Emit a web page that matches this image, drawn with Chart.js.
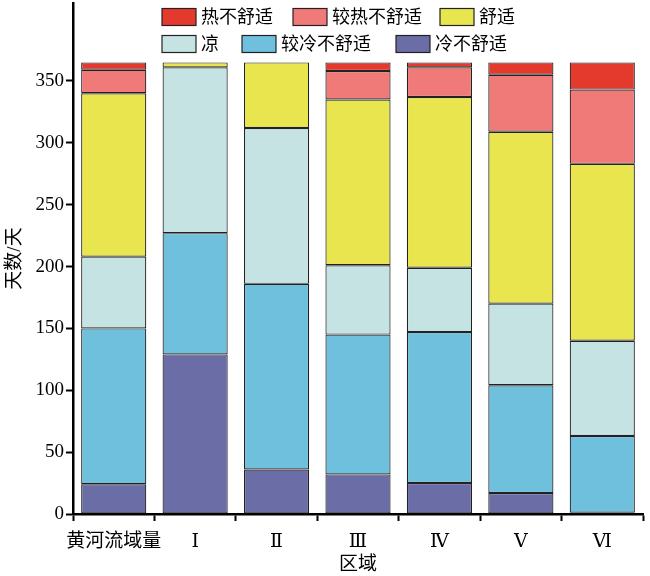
<!DOCTYPE html>
<html>
<head>
<meta charset="utf-8">
<script src="https://cdn.jsdelivr.net/npm/chart.js@4"></script>
<style>
html,body{margin:0;padding:0;background:#fff;}
canvas{display:block;}
</style>
</head>
<body>
<canvas id="c" width="650" height="576"></canvas>
<script>
const categories = ['黄河流域量', 'Ⅰ', 'Ⅱ', 'Ⅲ', 'Ⅳ', 'Ⅴ', 'Ⅵ'];
const cold      = [24, 129, 36, 32, 25, 17, 1];
const cool      = [126, 98, 150, 113, 122, 87, 62];
const mild      = [58, 134, 126, 56, 52, 66, 77];
const comfort   = [132, 4, 53, 134, 138, 139, 143];
const warm      = [19, 0, 0, 23, 24, 46, 60];
const hot       = [6, 0, 0, 7, 4, 10, 22];
const yTicks    = [0, 50, 100, 150, 200, 250, 300, 350];

const seriesNames  = ['冷不舒适', '较冷不舒适', '凉', '舒适', '较热不舒适', '热不舒适'];
const seriesColors = ['#6B6DA6', '#6FC0DC', '#C6E3E3', '#E9E54E', '#F07A78', '#E43A2E'];
const seriesData   = [cold, cool, mild, comfort, warm, hot];

const SERIF = '"Liberation Serif", "Times New Roman", Times, "DejaVu Serif", serif';
const CJK = SERIF.replace(', serif', ', "Noto Sans CJK SC", serif');

const legendPlugin = {
  id: 'customLegend',
  afterDraw(chart) {
    const ctx = chart.ctx;
    const order = [5, 4, 3, 2, 1, 0];
    const rows = [[162, 293, 440], [162, 242, 396]];
    const rowY = [17, 44];
    ctx.save();
    ctx.font = '18px ' + CJK;
    ctx.textBaseline = 'middle';
    ctx.textAlign = 'left';
    order.forEach((di, i) => {
      const r = Math.floor(i / 3), c = i % 3;
      const ds = chart.data.datasets[di];
      const x = rows[r][c], y = rowY[r];
      ctx.fillStyle = ds.backgroundColor;
      ctx.fillRect(x, y - 8.5, 34, 17);
      ctx.lineWidth = 1.2;
      ctx.strokeStyle = '#222';
      ctx.strokeRect(x, y - 8.5, 34, 17);
      ctx.fillStyle = '#000';
      ctx.fillText(ds.label, x + 39, y + 1);
    });
    ctx.restore();
  }
};

new Chart(document.getElementById('c'), {
  type: 'bar',
  data: {
    labels: categories,
    datasets: seriesData.map((d, i) => ({
      label: seriesNames[i],
      data: d,
      backgroundColor: seriesColors[i],
      borderColor: '#222',
      borderWidth: 1.2,
      borderSkipped: false,
      barPercentage: 0.8,
      categoryPercentage: 1.0
    }))
  },
  options: {
    responsive: false,
    animation: false,
    layout: { padding: { top: 3, right: 7, left: 0, bottom: 0 } },
    plugins: {
      legend: { display: false },
      tooltip: { enabled: false }
    },
    scales: {
      x: {
        stacked: true,
        afterFit(s) { s.height = 62; s.paddingLeft = 0; s.paddingRight = 0; },
        border: { display: true, color: '#000', width: 2.5 },
        grid: { display: true, drawOnChartArea: false, drawTicks: true, tickLength: 7, tickWidth: 2, tickColor: '#000' },
        ticks: { color: '#000', font: { family: CJK, size: 19 }, padding: 10, maxRotation: 0, autoSkip: false },
        title: { display: true, text: '区域', color: '#000', font: { family: CJK, size: 19 }, padding: { top: 0, bottom: 0 } }
      },
      y: {
        stacked: true,
        min: 0,
        max: 413,
        afterFit(s) { s.width = 73; s.paddingTop = 0; s.paddingBottom = 0; },
        afterBuildTicks(s) { s.ticks = yTicks.map(v => ({ value: v })); },
        border: { display: true, color: '#000', width: 2.5 },
        grid: { display: true, drawOnChartArea: false, drawTicks: true, tickLength: 7, tickWidth: 2, tickColor: '#000' },
        ticks: { color: '#000', font: { family: SERIF, size: 19 }, padding: 2 },
        title: { display: true, text: '天数/天', color: '#000', font: { family: CJK, size: 19 }, padding: { top: 4, bottom: 0 } }
      }
    }
  },
  plugins: [legendPlugin]
});
</script>
</body>
</html>
